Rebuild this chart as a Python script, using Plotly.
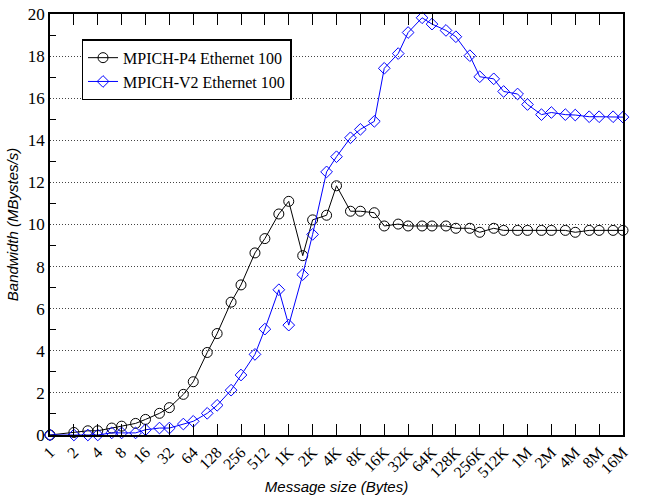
import plotly.graph_objects as go

sizes = [1, 2, 3, 4, 6, 8, 12, 16, 24, 32, 48, 64, 96, 128, 192, 256, 384, 512, 768,
         1024, 1536, 2048, 3072, 4096, 6144, 8192, 12288, 16384, 24576, 32768, 49152,
         65536, 98304, 131072, 196608, 262144, 393216, 524288, 786432, 1048576,
         1572864, 2097152, 3145728, 4194304, 6291456, 8388608, 12582912, 16777216]

p4 = [0.0, 0.12, 0.2, 0.2, 0.33, 0.42, 0.55, 0.74, 1.03, 1.3, 1.93, 2.53, 3.92, 4.82,
      6.31, 7.13, 8.65, 9.33, 10.5, 11.1, 8.52, 10.22, 10.44, 11.84, 10.63, 10.63,
      10.56, 9.93, 10.02, 9.93, 9.93, 9.93, 9.93, 9.82, 9.82, 9.63, 9.82, 9.72, 9.72,
      9.72, 9.72, 9.72, 9.72, 9.63, 9.72, 9.72, 9.72, 9.72]

v2 = [0.0, 0.0, 0.0, 0.0, 0.1, 0.1, 0.1, 0.25, 0.33, 0.33, 0.52, 0.65, 1.03, 1.41,
      2.13, 2.85, 3.83, 5.03, 6.9, 5.22, 7.62, 9.53, 12.5, 13.22, 14.12, 14.52,
      14.9, 17.42, 18.12, 19.12, 19.82, 19.52, 19.22, 18.92, 18.02, 17.02, 16.92,
      16.32, 16.2, 15.7, 15.22, 15.32, 15.22, 15.2, 15.12, 15.12, 15.12, 15.1]

tick_vals = [2 ** n for n in range(25)]
tick_text = ["1", "2", "4", "8", "16", "32", "64", "128", "256", "512", "1K", "2K", "4K",
             "8K", "16K", "32K", "64K", "128K", "256K", "512K", "1M", "2M", "4M", "8M", "16M"]

fig = go.Figure()
fig.add_trace(go.Scatter(
    x=sizes, y=p4, mode="lines+markers", name="MPICH-P4 Ethernet 100",
    line=dict(color="black", width=1),
    marker=dict(symbol="circle-open", size=10, color="black", line=dict(width=1)),
    cliponaxis=False))
fig.add_trace(go.Scatter(
    x=sizes, y=v2, mode="lines+markers", name="MPICH-V2 Ethernet 100",
    line=dict(color="#0000ff", width=1),
    marker=dict(symbol="diamond-open", size=9, color="#0000ff", line=dict(width=1)),
    cliponaxis=False))

serif = "Liberation Serif, Times New Roman, serif"
sans = "Liberation Sans, Arial, sans-serif"

fig.update_layout(
    width=645, height=495,
    margin=dict(l=50, r=22, t=14, b=60),
    plot_bgcolor="white", paper_bgcolor="white",
    showlegend=True,
    legend=dict(x=0.055, y=0.94, xanchor="left", yanchor="top",
                bordercolor="black", borderwidth=1.5, bgcolor="white",
                font=dict(family=serif, size=16, color="black"),
                tracegroupgap=0, itemwidth=30),
    xaxis=dict(
        type="log", range=[0, 24 * 0.30103], tickmode="array",
        tickvals=tick_vals, ticktext=tick_text, tickangle=-45,
        ticks="inside", ticklen=11, tickcolor="black",
        showline=True, linecolor="black", linewidth=1.5, mirror="allticks",
        showgrid=False, zeroline=False, automargin=False,
        tickfont=dict(family=serif, size=16, color="black"),
        title=dict(text="<i>Message size (Bytes)</i>",
                   font=dict(family=sans, size=15, color="black"), standoff=4),
    ),
    yaxis=dict(
        range=[0, 20], tickmode="linear", tick0=0, dtick=2,
        ticks="", showline=True, linecolor="black", linewidth=1.5, mirror=True,
        showgrid=True, gridcolor="#444444", griddash="1px,2px", gridwidth=1,
        zeroline=False, automargin=False,
        tickfont=dict(family=serif, size=17, color="black"),
        minor=dict(tickmode="linear", tick0=1, dtick=2, ticks="inside",
                   ticklen=6, tickcolor="black", showgrid=False),
        title=dict(text="<i>Bandwidth (MBystes/s)</i>",
                   font=dict(family=sans, size=15, color="black"), standoff=6),
    ),
)

fig.write_html(
    "out.html",
    config={"displayModeBar": False},
    post_script="document.body.style.margin='0';document.body.style.padding='0';"
                "document.body.style.overflow='hidden';",
)
